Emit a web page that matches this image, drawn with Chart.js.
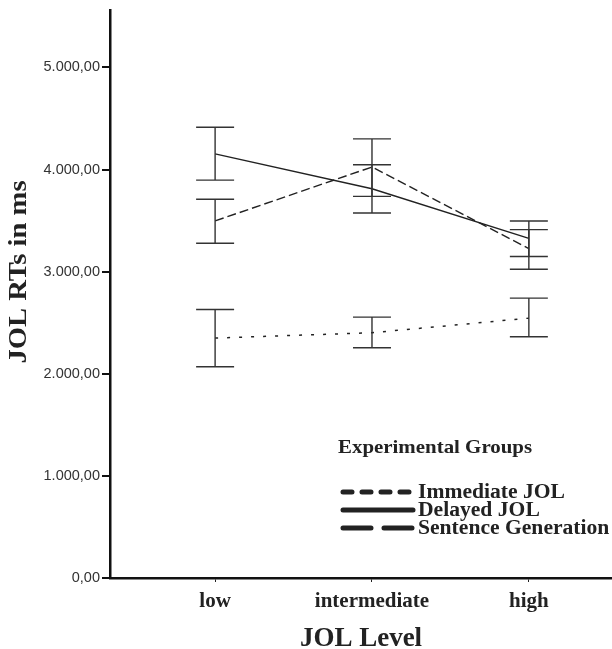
<!DOCTYPE html>
<html>
<head>
<meta charset="utf-8">
<script src="https://cdn.jsdelivr.net/npm/chart.js@4.4.1/dist/chart.umd.min.js"></script>
<style>
  body { margin: 0; background: #fff; }
  canvas { display: block; }
</style>
</head>
<body>
<canvas id="chart" width="612" height="649"></canvas>
<script>
const categories = ['low', 'intermediate', 'high'];
const seriesNames = ['Immediate JOL', 'Delayed JOL', 'Sentence Generation'];

// means and error bar ends (ms)
const immediateMean = [2350, 2402, 2545];
const immediateLow = [2069, 2255, 2363];
const immediateHigh = [2630, 2555, 2741];

const delayedMean = [4154, 3812, 3327];
const delayedLow = [3897, 3575, 3148];
const delayedHigh = [4415, 4047, 3497];

const sentenceMean = [3497, 4025, 3226];
const sentenceLow = [3279, 3738, 3024];
const sentenceHigh = [3709, 4301, 3412];

const yTicks = [0, 1000, 2000, 3000, 4000, 5000];

const ink = '#222';
const serif = '"Liberation Serif", "Times New Roman", serif';

function toPoints(values) {
  return values.map((v, i) => ({ x: i + 1, y: v }));
}

function formatNumber(v) {
  const whole = Math.round(v).toString().replace(/\B(?=(\d{3})+(?!\d))/g, '.');
  return whole + ',00';
}

const errorGroups = [
  { low: immediateLow, high: immediateHigh },
  { low: delayedLow, high: delayedHigh },
  { low: sentenceLow, high: sentenceHigh }
];

const errorBars = {
  id: 'errorBars',
  afterDatasetsDraw(chart) {
    const ctx = chart.ctx;
    const xs = chart.scales.x;
    const ys = chart.scales.y;
    ctx.save();
    ctx.strokeStyle = '#333';
    ctx.lineWidth = 1.4;
    errorGroups.forEach(g => {
      g.low.forEach((lo, i) => {
        const px = xs.getPixelForValue(i + 1);
        const yLo = ys.getPixelForValue(lo);
        const yHi = ys.getPixelForValue(g.high[i]);
        ctx.beginPath();
        ctx.moveTo(px, yLo);
        ctx.lineTo(px, yHi);
        ctx.moveTo(px - 19, yLo);
        ctx.lineTo(px + 19, yLo);
        ctx.moveTo(px - 19, yHi);
        ctx.lineTo(px + 19, yHi);
        ctx.stroke();
      });
    });
    ctx.restore();
  }
};

// text a little wider than Times, like the original
function wideText(ctx, text, x, y, stretch) {
  ctx.save();
  ctx.translate(x, y);
  ctx.scale(stretch, 1);
  ctx.fillText(text, 0, 0);
  ctx.restore();
}

const legendDashes = [[9, 10], [], [28, 13]];

const extras = {
  id: 'extras',
  afterDraw(chart) {
    const ctx = chart.ctx;
    ctx.save();
    // y axis title
    ctx.fillStyle = ink;
    ctx.font = 'bold 26px ' + serif;
    ctx.textAlign = 'center';
    ctx.textBaseline = 'middle';
    ctx.translate(19, 272);
    ctx.rotate(-Math.PI / 2);
    wideText(ctx, 'JOL RTs in ms', 0, 0, 1.1);
    ctx.restore();

    // legend
    ctx.save();
    ctx.fillStyle = ink;
    ctx.textBaseline = 'middle';
    ctx.textAlign = 'left';
    ctx.font = 'bold 19px ' + serif;
    wideText(ctx, 'Experimental Groups', 338, 448, 1.1);
    const rows = [492, 510, 528];
    seriesNames.forEach((name, i) => {
      ctx.strokeStyle = ink;
      ctx.lineWidth = 5;
      ctx.lineCap = 'round';
      ctx.setLineDash(legendDashes[i]);
      ctx.beginPath();
      ctx.moveTo(343, rows[i]);
      ctx.lineTo(413, rows[i]);
      ctx.stroke();
      ctx.setLineDash([]);
      ctx.font = 'bold 20px ' + serif;
      wideText(ctx, name, 418, rows[i] + 1, 1.08);
    });
    ctx.restore();
  }
};

new Chart(document.getElementById('chart'), {
  type: 'line',
  data: {
    datasets: [
      {
        label: seriesNames[0],
        data: toPoints(immediateMean),
        borderColor: ink,
        borderWidth: 1.5,
        borderDash: [3, 9],
        pointRadius: 0
      },
      {
        label: seriesNames[1],
        data: toPoints(delayedMean),
        borderColor: ink,
        borderWidth: 1.4,
        pointRadius: 0
      },
      {
        label: seriesNames[2],
        data: toPoints(sentenceMean),
        borderColor: ink,
        borderWidth: 1.4,
        borderDash: [9, 4],
        pointRadius: 0
      }
    ]
  },
  options: {
    responsive: false,
    animation: false,
    layout: { padding: { top: 9, right: 0, left: 0, bottom: 0 } },
    plugins: {
      legend: { display: false },
      tooltip: { enabled: false }
    },
    scales: {
      x: {
        type: 'linear',
        min: 0.33,
        max: 3.53,
        afterBuildTicks: s => { s.ticks = categories.map((c, i) => ({ value: i + 1 })); },
        afterFit: s => { s.height = 71; },
        ticks: {
          callback: v => categories[v - 1],
          font: { family: serif, size: 21, weight: 'bold' },
          color: ink,
          padding: 7
        },
        grid: { drawOnChartArea: false, drawTicks: true, tickLength: 4, color: ink, lineWidth: 1 },
        border: { display: true, color: '#111', width: 2.5 },
        title: {
          display: true,
          text: 'JOL Level',
          font: { family: serif, size: 27, weight: 'bold', lineHeight: 1 },
          color: ink,
          padding: { top: 0, bottom: -4 }
        }
      },
      y: {
        min: 0,
        max: 5556,
        afterBuildTicks: s => { s.ticks = yTicks.map(v => ({ value: v })); },
        afterFit: s => { s.width = 110; },
        ticks: {
          callback: v => formatNumber(v),
          font: { family: '"Liberation Sans", Arial, sans-serif', size: 14.5 },
          color: '#333',
          padding: 2
        },
        grid: { drawOnChartArea: false, drawTicks: true, tickLength: 8, color: '#111', lineWidth: 2 },
        border: { display: true, color: '#111', width: 2.5 }
      }
    }
  },
  plugins: [errorBars, extras]
});
</script>
</body>
</html>
